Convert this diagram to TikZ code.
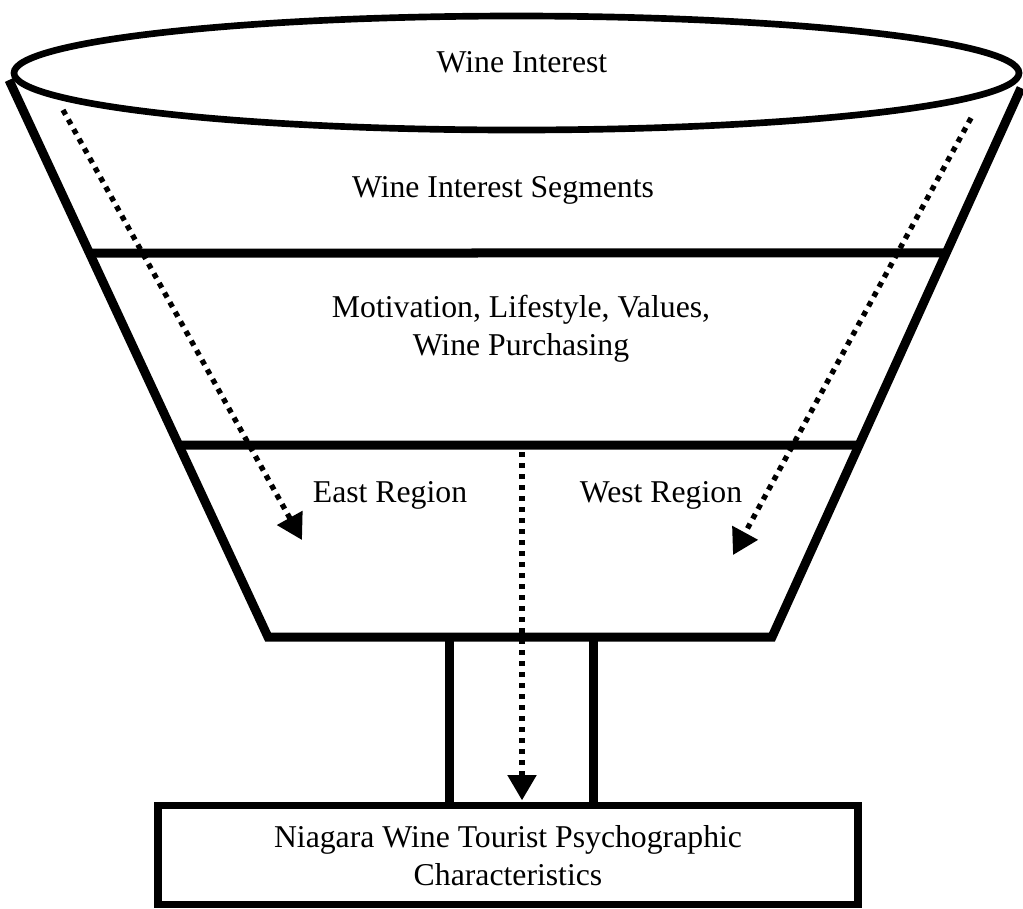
\documentclass[tikz,border=0pt]{standalone}
\usepackage{fontspec}
\setmainfont{Liberation Serif}
\usetikzlibrary{arrows.meta,shapes.geometric,calc}

\tikzset{
  heavy/.style={line width=6.75pt, line join=miter},
  rimline/.style={line width=5pt},
  label/.style={inner sep=0pt, anchor=base, align=center,
    font=\fontsize{23.8}{28.5}\selectfont},
  flow/.style={line width=4pt, dash pattern=on 4pt off 4.25pt,
    -{Triangle[length=19pt,width=21pt]}},
}

\begin{document}
\begin{tikzpicture}[x=0.75pt,y=-0.75pt]
  \useasboundingbox (0,0) rectangle (1023,908);

  % funnel outline: sides and narrow bottom
  \coordinate (tl) at (9,80);
  \coordinate (bl) at (268,637);
  \coordinate (br) at (772,637);
  \coordinate (tr) at (1021,88);
  \draw[heavy] (tl) -- (bl) -- (br) -- (tr);

  % band dividers across the funnel
  \path (tl) -- (bl) coordinate[pos=0.3106] (d1l) coordinate[pos=0.6553] (d2l);
  \path (tr) -- (br) coordinate[pos=0.3005] (d1r) coordinate[pos=0.6503] (d2r);
  \draw[heavy] (d1l) -- (d1r);
  \draw[heavy] (d2l) -- (d2r);

  % rim of the funnel
  \node (rim) [draw, rimline, ellipse, inner sep=0pt,
    minimum width=753.75pt, minimum height=85.5pt] at (516.5,73) {};

  % stem and result box
  \node (box) [draw, line width=5.75pt, inner sep=0pt,
    minimum width=525pt, minimum height=74.25pt] at (508,855) {};
  \coordinate (s1) at (449,637);
  \coordinate (s2) at (593,637);
  \draw[heavy] (s1) -- (s1 |- box.north);
  \draw[heavy] (s2) -- (s2 |- box.north);

  % labels (multi-line labels sit on the baseline of their last line)
  \node[label] (wi)  at (522,72)  {Wine Interest};
  \node[label] (wis) at (503,197) {Wine Interest Segments};
  \node[label] (mot) at (521,355) {Motivation, Lifestyle, Values,\\Wine Purchasing};
  \node[label] (east) at (390,502) {East Region};
  \node[label] (west) at (661,502) {West Region};
  \node[label] (res) at (508,885) {Niagara Wine Tourist Psychographic\\Characteristics};

  % dotted flow arrows
  \coordinate (la) at (63,110);
  \coordinate (lb) at (302,540);
  \coordinate (ra) at (971,118);
  \coordinate (rb) at (733,555);
  \coordinate (ca) at (522,452);
  \draw[flow] (la) -- (lb);
  \draw[flow] (ra) -- (rb);
  \draw[flow] (ca) -- ([yshift=1pt]ca |- box.north);
\end{tikzpicture}
\end{document}
